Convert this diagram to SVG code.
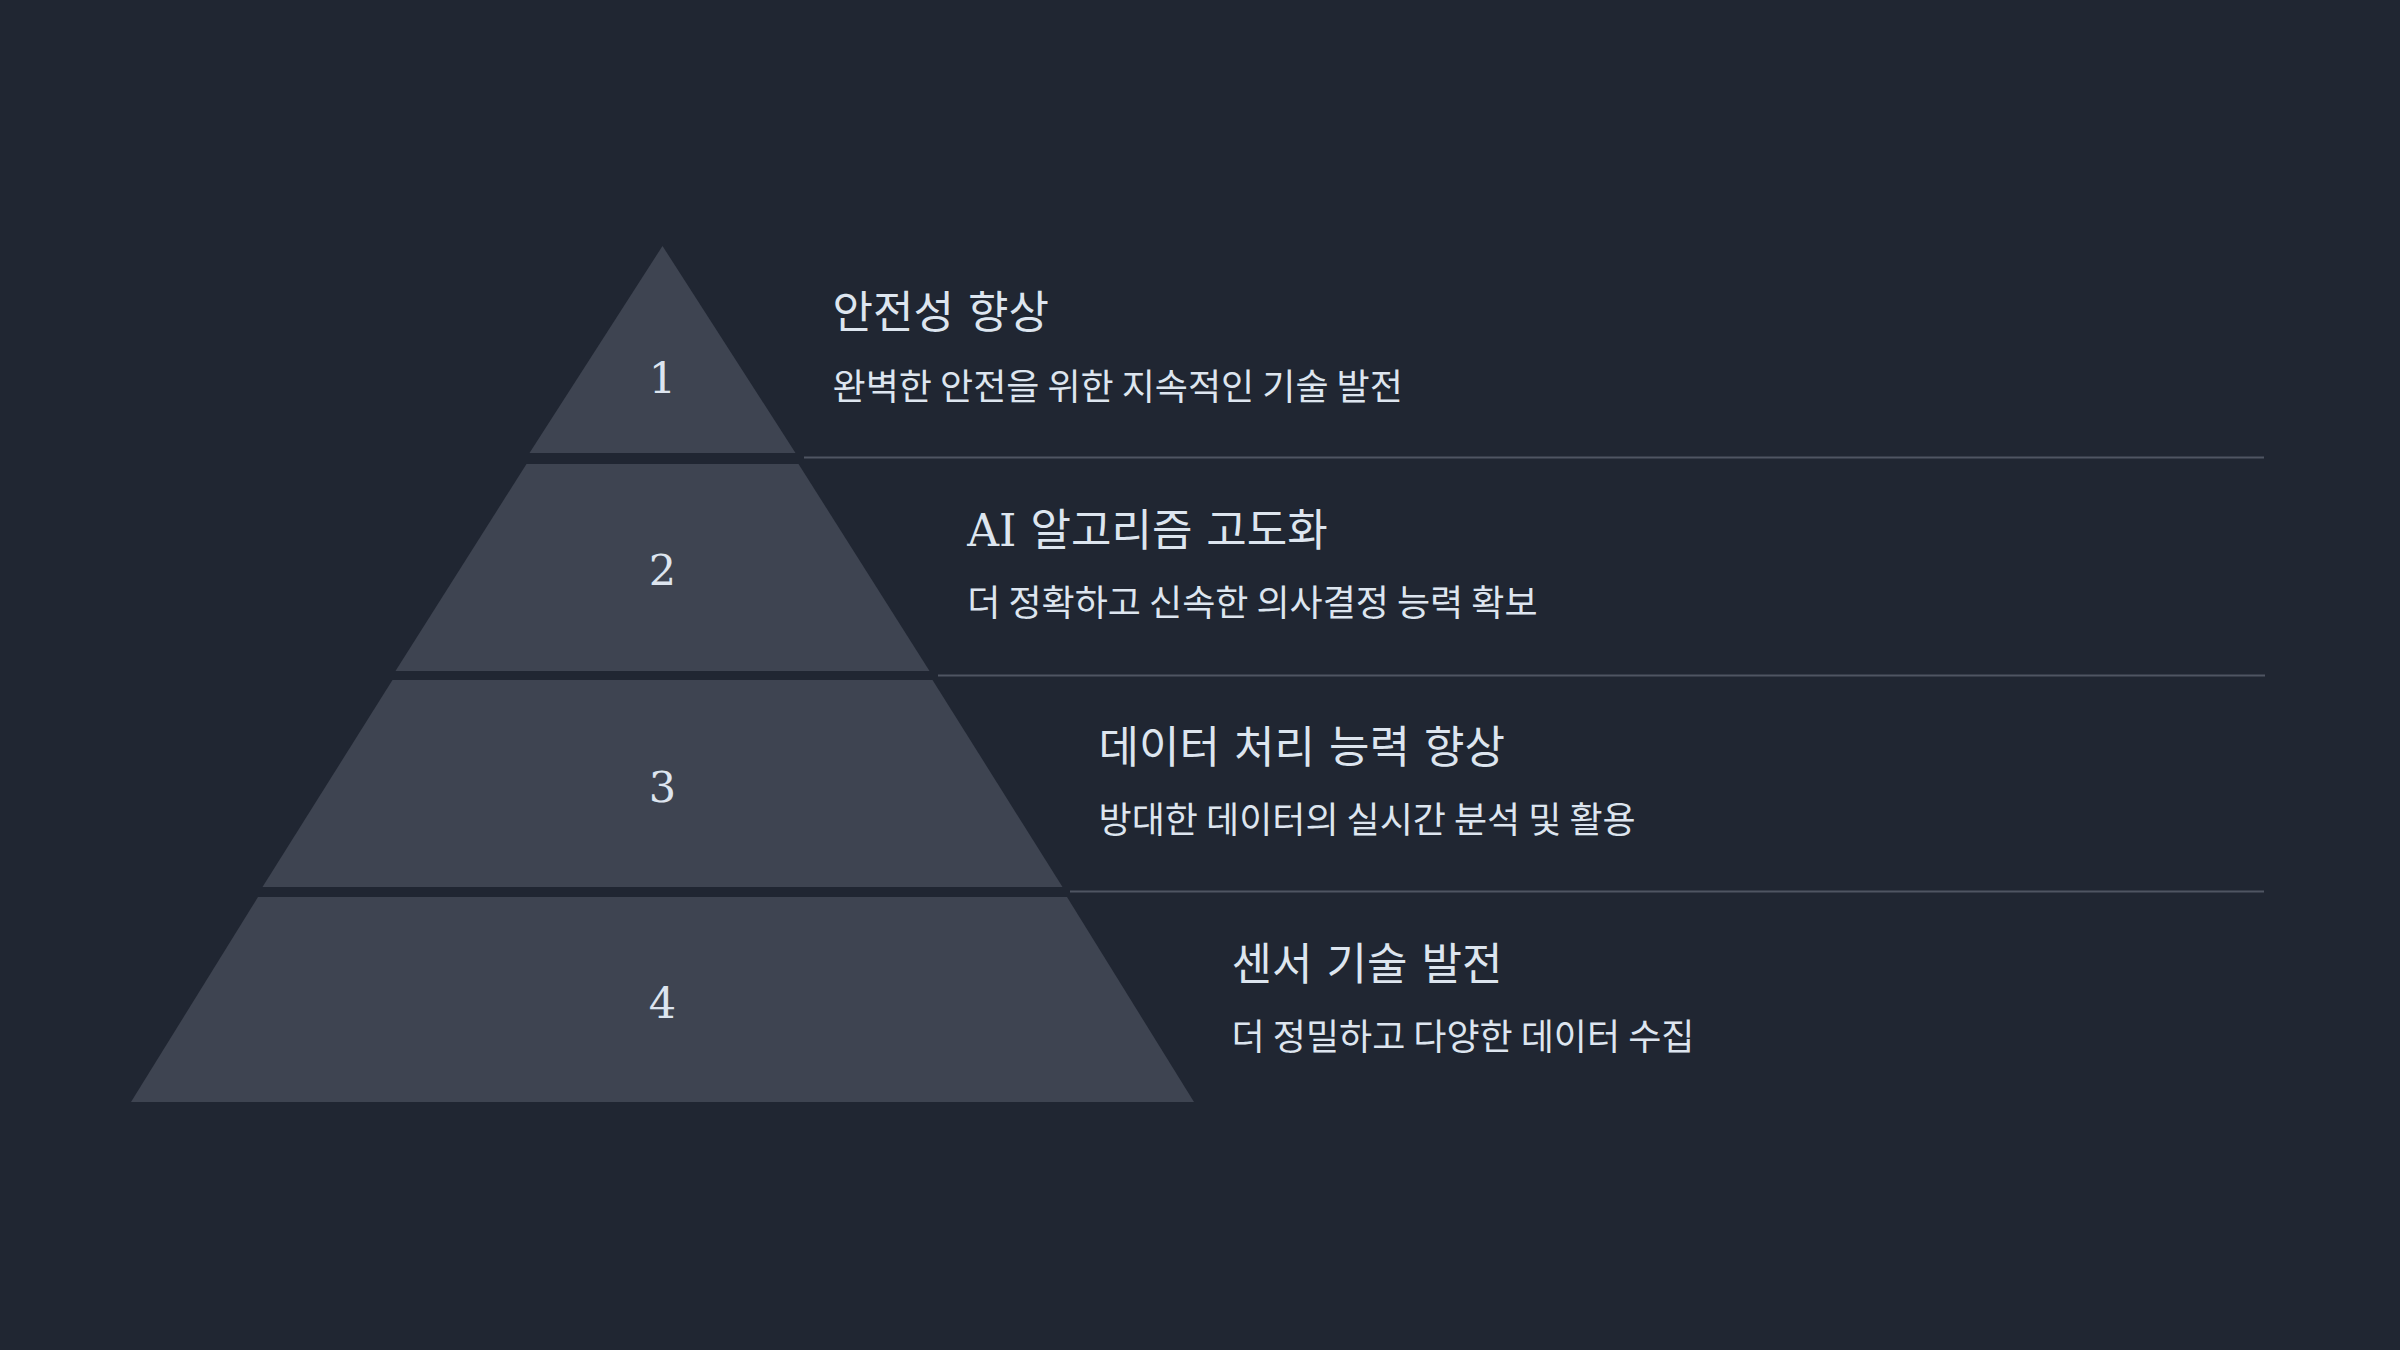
<svg xmlns="http://www.w3.org/2000/svg" width="2400" height="1350" viewBox="0 0 2400 1350">
  <style>
    .tier { fill: #3e4451; }
    .num { font-family: "DejaVu Serif", "Liberation Serif", serif; font-size: 43px; fill: #dde5ef; text-anchor: middle; }
    .title { font-family: "DejaVu Serif", "Noto Sans CJK KR", sans-serif; font-size: 44px; fill: #dde5ef; }
    .desc { font-family: "Noto Sans CJK KR", sans-serif; font-size: 36px; fill: #dde5ef; }
    .sep { stroke: #4f5562; stroke-width: 2; }
  </style>
  <rect x="0" y="0" width="2400" height="1350" fill="#202632"/>
  <g id="connectors">
    <line class="sep" x1="804" y1="457.5" x2="2264" y2="457.5"/>
    <line class="sep" x1="938" y1="675.5" x2="2265" y2="675.5"/>
    <line class="sep" x1="1070" y1="891.5" x2="2264" y2="891.5"/>
  </g>
  <g id="tier1">
    <polygon class="tier" points="662.5,246 795.5,453 529.5,453"/>
    <text class="num" x="662.5" y="393">1</text>
    <text class="title" x="832.6" y="328">안전성 향상</text>
    <text class="desc" x="832.6" y="400">완벽한 안전을 위한 지속적인 기술 발전</text>
  </g>
  <g id="tier2">
    <polygon class="tier" points="526.5,464 798.5,464 929.5,671 395.5,671"/>
    <text class="num" x="662.5" y="585">2</text>
    <text class="title" x="967.3" y="546">AI 알고리즘 고도화</text>
    <text class="desc" x="967.3" y="616">더 정확하고 신속한 의사결정 능력 확보</text>
  </g>
  <g id="tier3">
    <polygon class="tier" points="392.5,680 932.5,680 1062.5,887 262.5,887"/>
    <text class="num" x="662.5" y="802">3</text>
    <text class="title" x="1098.6" y="763">데이터 처리 능력 향상</text>
    <text class="desc" x="1098.6" y="833">방대한 데이터의 실시간 분석 및 활용</text>
  </g>
  <g id="tier4">
    <polygon class="tier" points="258,897 1067,897 1194,1102 131,1102"/>
    <text class="num" x="662.5" y="1018">4</text>
    <text class="title" x="1231.6" y="980">센서 기술 발전</text>
    <text class="desc" x="1231.6" y="1050">더 정밀하고 다양한 데이터 수집</text>
  </g>
</svg>
